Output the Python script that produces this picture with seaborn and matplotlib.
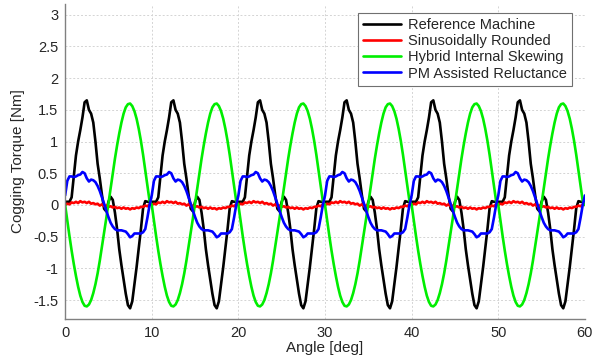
import numpy as np
import pandas as pd
import matplotlib
matplotlib.use("Agg")
import matplotlib.pyplot as plt
import seaborn as sns

# one 10 deg period of each cogging torque waveform, read at 0.25 deg steps
step = 0.25
periods = 6
series_names = ["Reference Machine", "Sinusoidally Rounded",
                "Hybrid Internal Skewing", "PM Assisted Reluctance"]
series_colors = ["#000000", "#ff0000", "#00ee00", "#0000ff"]

ref_machine = [0.05, 0.05, 0.05, 0.12, 0.45, 0.78, 1.00, 1.18, 1.38, 1.62,
               1.65, 1.50, 1.44, 1.30, 1.00, 0.65, 0.42, 0.16, -0.06, -0.10,
               0.05, 0.13, 0.08, -0.12, -0.38, -0.70, -0.95, -1.18, -1.40, -1.58,
               -1.63, -1.52, -1.25, -0.98, -0.68, -0.38, -0.05, 0.06, 0.05, 0.05]
sin_rounded = [0.00, 0.02, 0.01, 0.04, 0.03, 0.05, 0.03, 0.06, 0.04, 0.05,
               0.03, 0.05, 0.02, 0.03, 0.01, 0.02, -0.01, 0.01, -0.02, -0.01,
               -0.03, -0.02, -0.04, -0.03, -0.05, -0.04, -0.06, -0.04, -0.06, -0.05,
               -0.07, -0.05, -0.06, -0.04, -0.05, -0.03, -0.03, -0.01, -0.02, 0.01]
hybrid_skew = [0.00, -0.25, -0.49, -0.72, -0.93, -1.12, -1.29, -1.43, -1.53, -1.59,
               -1.60, -1.57, -1.50, -1.39, -1.25, -1.08, -0.88, -0.66, -0.44, -0.21,
               0.02, 0.26, 0.50, 0.73, 0.94, 1.13, 1.30, 1.44, 1.54, 1.59,
               1.60, 1.56, 1.48, 1.36, 1.20, 1.01, 0.79, 0.55, 0.30, 0.06]
pm_assisted = [0.15, 0.38, 0.45, 0.45, 0.44, 0.45, 0.47, 0.48, 0.52, 0.50,
               0.42, 0.37, 0.40, 0.39, 0.36, 0.30, 0.22, 0.12, 0.02, -0.09,
               -0.19, -0.28, -0.34, -0.38, -0.40, -0.40, -0.40, -0.41, -0.42, -0.46,
               -0.51, -0.49, -0.45, -0.45, -0.45, -0.45, -0.43, -0.38, -0.20, 0.00]

n = len(ref_machine) * periods + 1
angle = np.arange(n) * step

frames = []
for name, period in zip(series_names, [ref_machine, sin_rounded, hybrid_skew, pm_assisted]):
    # the same period repeats over the 60 deg shown
    vals = list(np.tile(period, periods)) + [period[0]]
    frames.append(pd.DataFrame({"angle": angle, "torque": vals, "machine": name}))
df = pd.concat(frames, ignore_index=True)

sns.set_style("white")
plt.rcParams["font.family"] = ["Liberation Sans", "DejaVu Sans"]
plt.rcParams["font.size"] = 10.5

fig = plt.figure(figsize=(6.03, 3.63), dpi=100)
ax = fig.add_axes([0.108, 0.121, 0.862, 0.868])

sns.lineplot(data=df, x="angle", y="torque", hue="machine",
             palette=dict(zip(series_names, series_colors)),
             hue_order=series_names, estimator=None, sort=False,
             linewidth=1.9, ax=ax)

ax.set_xlim(0, 60)
ax.set_ylim(-1.8, 3.17)
ax.set_xticks(np.arange(0, 61, 10))
ax.set_yticks(np.arange(-1.5, 3.01, 0.5))
ax.set_yticklabels(["-1.5", "-1", "-0.5", "0", "0.5", "1", "1.5", "2", "2.5", "3"])
ax.grid(True, linestyle=(0, (2, 2)), color="#d4d4d4", linewidth=0.7)
ax.tick_params(direction="in", length=4, color="#808080", labelsize=10.5, pad=5)
for side in ["top", "right"]:
    ax.spines[side].set_visible(False)
for side in ["left", "bottom"]:
    ax.spines[side].set_color("#808080")
    ax.spines[side].set_linewidth(1.0)

ax.set_xlabel("Angle [deg]", fontsize=11, labelpad=1)
ax.set_ylabel("Cogging Torque [Nm]", fontsize=11, labelpad=6)

leg = ax.legend(loc="upper right", bbox_to_anchor=(0.99, 0.995), frameon=True,
                fancybox=False, framealpha=1, edgecolor="#707070",
                handlelength=2.6, handletextpad=0.5, labelspacing=0.15,
                borderpad=0.35, fontsize=10.5)
leg.get_frame().set_linewidth(0.8)
for line in leg.get_lines():
    line.set_linewidth(1.9)

fig.savefig("out.png", dpi=100)
